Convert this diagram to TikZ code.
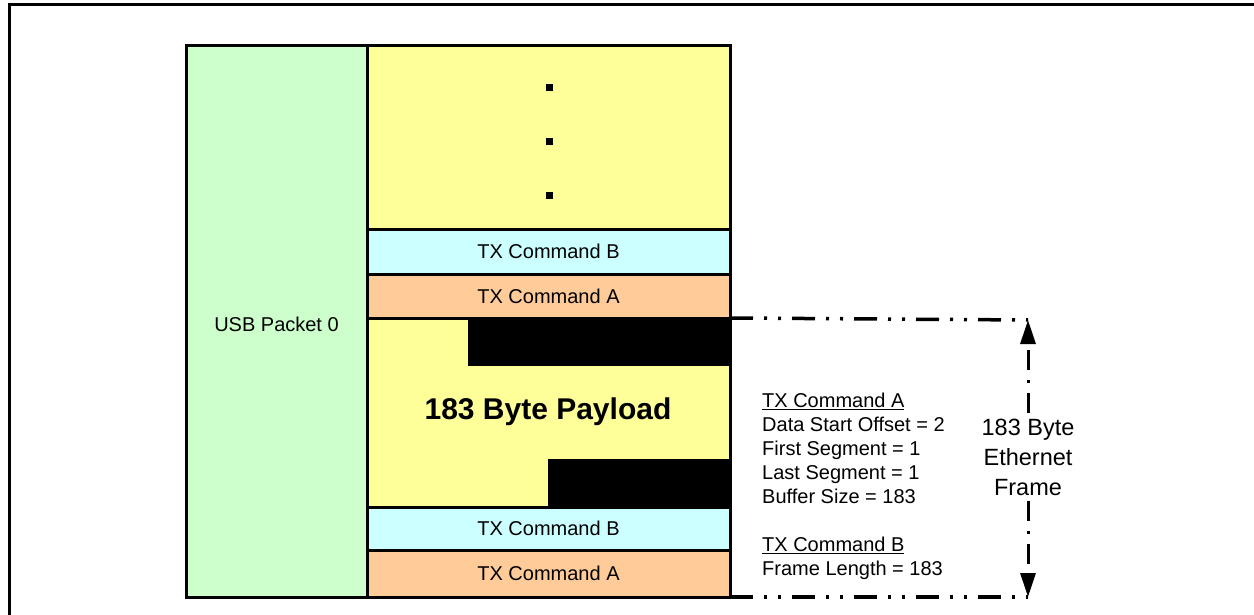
\documentclass[tikz,border=0pt]{standalone}
\usepackage{fontspec}
\setmainfont{Liberation Sans}
\usetikzlibrary{arrows.meta}
\definecolor{pgreen}{HTML}{CCFFCC}
\definecolor{pyellow}{HTML}{FFFF99}
\definecolor{pcyan}{HTML}{CCFFFF}
\definecolor{porange}{HTML}{FFCC99}
\begin{document}
\begin{tikzpicture}[x=1pt,y=-1pt,
  box/.style={draw=black,line width=3pt,anchor=north west,inner sep=0pt,outer sep=0pt,
    font=\fontsize{20}{23}\selectfont},
  blk/.style={fill=black,draw=none,anchor=north west,inner sep=0pt,outer sep=0pt},
  ddot/.style={line width=3.5pt,dash pattern=on 23pt off 11pt on 3pt off 11pt on 3pt off 11pt},
  vdot/.style={line width=3pt,dash pattern=on 20pt off 10pt on 3pt off 10pt},
  note/.style={anchor=north west,inner sep=0pt,align=left,font=\fontsize{20}{24}\selectfont},
  dotsq/.style={fill=black,draw=none,minimum size=7pt,inner sep=0pt}]
\useasboundingbox (0,0) rectangle (1254,615);
\clip (0,0) rectangle (1254,615);
% outer frame
\draw[line width=3pt] (9,640) -- (9,5) -- (1280,5);
% left packet
\node[box,fill=pgreen,minimum width=181pt,minimum height=551pt] (usb) at (186,46) {};
\node[font=\fontsize{20}{23}\selectfont] (usbl) at (276.5,324) {USB Packet 0};
% right column
\node[box,fill=pyellow,minimum width=363pt,minimum height=183pt] (top) at (367,46) {};
\node[box,fill=pcyan,minimum width=363pt,minimum height=45pt] (cmdB1) at (367,229) {TX Command B};
\node[box,fill=porange,minimum width=363pt,minimum height=44pt] (cmdA1) at (367,274) {TX Command A};
\node[box,fill=pyellow,minimum width=363pt,minimum height=189pt] (pay) at (367,318) {};
\node[box,fill=pcyan,minimum width=363pt,minimum height=43pt] (cmdB2) at (367,507) {TX Command B};
\node[box,fill=porange,minimum width=363pt,minimum height=47pt] (cmdA2) at (367,550) {TX Command A};
% black blocks
\node[blk,minimum width=262pt,minimum height=47pt] (b1) at (468,319) {};
\node[blk,minimum width=182pt,minimum height=48pt] (b2) at (548,459) {};
\node[font=\fontsize{30}{34}\bfseries\selectfont] (payl) at (548,412) {183 Byte Payload};
% dots
\node[dotsq] (d1) at (549,88) {};
\node[dotsq] (d2) at (549,142) {};
\node[dotsq] (d3) at (549,196) {};
% annotations
\node[note] (noteA) at (762,393) {\underline{TX Command A}\\Data Start Offset = 2\\First Segment = 1\\Last Segment = 1\\Buffer Size = 183\\[24pt]\underline{TX Command B}\\Frame Length = 183};
% frame dimension
\coordinate (ft) at (1028,320);
\coordinate (fb) at (1028,597);
\draw[ddot] (pay.north east) -- (ft);
\draw[ddot] (cmdA2.south east) -- (fb);
\node[align=center,inner sep=5pt,font=\fontsize{23.5}{30}\selectfont] (eth) at (1028,457) {183 Byte\\Ethernet\\Frame};
\draw[vdot,-{Triangle[width=15pt,length=24pt]}] (eth.north) -- (ft);
\draw[vdot,-{Triangle[width=15pt,length=24pt]}] (eth.south) -- (fb);
\end{tikzpicture}
\end{document}
